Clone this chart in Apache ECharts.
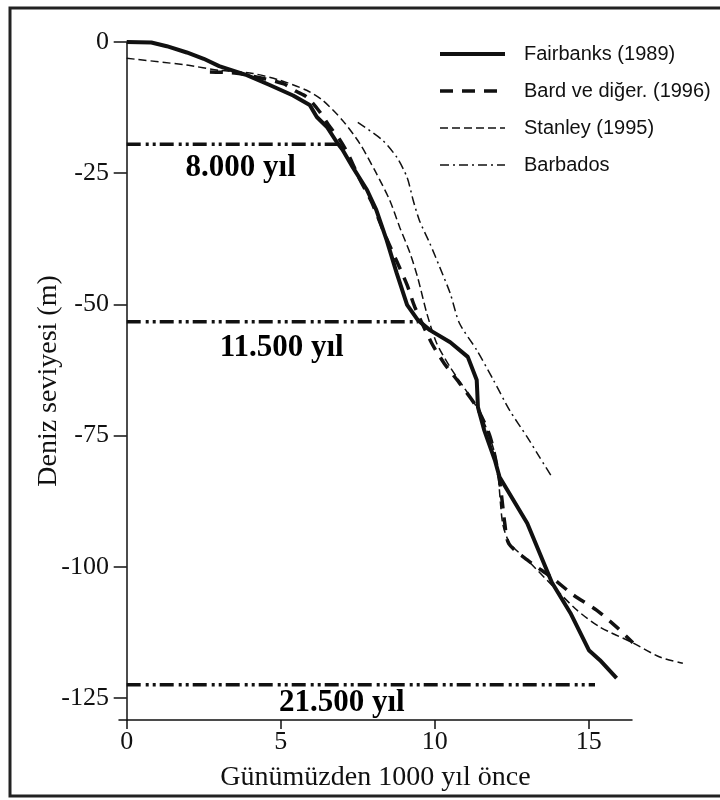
<!DOCTYPE html>
<html>
<head>
<meta charset="utf-8">
<script src="https://cdn.jsdelivr.net/npm/echarts@6/dist/echarts.min.js"></script>
<style>
    html, body {margin: 0; padding: 0; background: #fff;}
    #chart {width: 720px; height: 800px;}
</style>
</head>
<body>
<div id="chart"></div>
<script>
// egriler: [bin yil once, deniz seviyesi m]
var fairbanks = [[0, 0], [0.8, -0.1], [1.3, -0.8], [1.95, -2], [2.5, -3.2], [3.0, -4.6], [3.9, -6.3], [4.64, -8.2],
    [5.4, -10.2], [5.94, -12], [6.17, -14.3], [6.5, -16.2], [6.82, -19.1], [7.0, -20.5], [7.34, -23.9], [7.8, -28.2],
    [8.1, -32], [8.44, -37.8], [8.76, -44], [9.1, -50.1], [9.45, -53], [9.84, -54.9], [10.5, -57.2], [11.07, -60],
    [11.36, -64.4], [11.4, -69.6], [11.6, -73.9], [11.95, -79.7], [12.1, -82.9], [13.0, -91.7], [13.8, -103],
    [14.4, -108.8], [15.0, -115.9], [15.36, -117.8], [15.9, -121.2]];
var bard = [[2.7, -5.7], [3.5, -5.9], [4.4, -6.9], [5.1, -8.0], [5.5, -9.4], [5.85, -10.5], [6.25, -13.2], [6.6, -16.2],
    [6.9, -18.5], [7.2, -21.5], [7.55, -26], [7.95, -30.5], [8.4, -37], [8.75, -41.6], [9.1, -46.3], [9.35, -50.5],
    [9.9, -57.4], [10.3, -61.2], [10.8, -65], [11.36, -69.6], [11.8, -75.3], [12.1, -83.5], [12.27, -91.7],
    [12.4, -95.6], [13.0, -98.7], [13.83, -102.2], [14.5, -105.4], [15.26, -108.3], [15.94, -111.7], [16.43, -114.5]];
var stanley = [[0, -3.1], [1.95, -4.4], [3.0, -5.4], [4.1, -6.0], [4.97, -7.3], [5.84, -9.2], [6.36, -11.1], [7.0, -14.9],
    [7.56, -19.3], [8.1, -25], [8.54, -30.2], [8.86, -35.3], [9.2, -40.3], [9.45, -45], [9.74, -51.7], [10.06, -57.4],
    [10.5, -62], [11.0, -66.3], [11.36, -69.6], [11.7, -74], [12.0, -79.7], [12.2, -91.7], [12.43, -95.5], [13.0, -98.7],
    [13.8, -103.5], [14.6, -108.2], [15.36, -111.5], [16.43, -114.5], [17.3, -117.2], [18.05, -118.4]];
var barbados = [[7.5, -15.3], [8.3, -18.7], [8.77, -22], [9.1, -25.8], [9.3, -30.2], [9.5, -34], [9.84, -38.4],
    [10.16, -42.9], [10.5, -47.9], [10.8, -53.6], [11.36, -58.7], [11.9, -64.4], [12.43, -70.2], [13.0, -75.3],
    [13.4, -79.1], [13.8, -82.9]];

// yatay referans cizgileri
var refLevels = [-19.5, -53.3, -122.5];
var refEnds = [6.85, 9.45, 15.2];
var refLabels = ['8.000 yıl', '11.500 yıl', '21.500 yıl'];
var refLabelAt = [[3.7, -24.1], [5.03, -58.3], [6.98, -125.9]];

var xTicks = [0, 5, 10, 15];
var yTicks = [0, -25, -50, -75, -100, -125];
var seriesNames = ['Fairbanks (1989)', 'Bard ve diğer. (1996)', 'Stanley (1995)', 'Barbados'];

var ink = '#111';
var serif = 'Liberation Serif';

var lineStyles = [
    {width: 4, type: 'solid'},
    {width: 3.5, type: [13, 9]},
    {width: 1.5, type: [8, 4]},
    {width: 1.5, type: [9, 4, 2, 4]}
];
var curves = [fairbanks, bard, stanley, barbados];

// eksen olcegi: 30.8 px / birim; egriler eksen sonunu gectigi icin genis ikinci grid
var xMin = -0.25, xMax = 16.4, xMaxWide = 18.3;
var gridLeft = 119, gridRight = 88;
var pxPerUnit = (720 - gridLeft - gridRight) / (xMax - xMin);
var wideRight = 720 - gridLeft - pxPerUnit * (xMaxWide - xMin);

var series = [];
curves.forEach(function (d, i) {
    series.push({
        name: seriesNames[i],
        type: 'line',
        xAxisIndex: 1,
        yAxisIndex: 1,
        data: d,
        symbol: 'none',
        smooth: i === 0 ? false : 0.25,
        lineStyle: {color: ink, width: lineStyles[i].width, type: lineStyles[i].type},
        itemStyle: {color: ink},
        z: 5 - i
    });
});

refLevels.forEach(function (lvl, i) {
    series.push({
        type: 'line',
        data: [[0, lvl], [refEnds[i], lvl]],
        symbol: 'none',
        lineStyle: {color: ink, width: 3.5, type: [14, 5, 3, 4, 3, 4]},
        silent: true
    });
});

series.push({
    type: 'scatter',
    data: refLabelAt.map(function (p, i) { return {value: p, name: refLabels[i]}; }),
    symbolSize: 0,
    silent: true,
    itemStyle: {opacity: 1},
    label: {
        show: true,
        position: 'inside',
        formatter: '{b}',
        fontFamily: serif,
        fontWeight: 'bold',
        fontSize: 31,
        color: '#000'
    }
});

var chart = echarts.init(document.getElementById('chart'));
var option = {
    backgroundColor: '#fff',
    animation: false,
    graphic: [{
        type: 'rect',
        shape: {x: 10, y: 8, width: 722, height: 788},
        style: {fill: 'none', stroke: '#222', lineWidth: 3},
        silent: true
    }],
    legend: {
        orient: 'vertical',
        left: 438,
        top: 42,
        padding: 0,
        itemWidth: 65,
        itemHeight: 14,
        itemGap: 13,
        textStyle: {fontFamily: 'Liberation Sans', fontSize: 20, color: ink, lineHeight: 24, padding: [0, 0, 0, 14]},
        data: seriesNames.map(function (n, i) {
            return {
                name: n,
                itemStyle: {opacity: 0},
                lineStyle: {width: lineStyles[i].width, type: lineStyles[i].type, color: ink}
            };
        })
    },
    grid: [
        {left: gridLeft, right: gridRight, top: 42, bottom: 80},
        {left: gridLeft, right: wideRight, top: 42, bottom: 80}
    ],
    xAxis: [{
        type: 'value',
        min: xMin,
        max: xMax,
        name: 'Günümüzden 1000 yıl önce',
        nameLocation: 'middle',
        nameGap: 44,
        nameTextStyle: {fontFamily: serif, fontSize: 28, color: ink},
        splitLine: {show: false},
        axisLine: {onZero: false, lineStyle: {color: ink, width: 1.5}},
        axisTick: {length: 9, customValues: xTicks, lineStyle: {color: ink, width: 1.5}},
        axisLabel: {customValues: xTicks, margin: 9, fontFamily: serif, fontSize: 26, color: ink}
    }, {
        type: 'value',
        gridIndex: 1,
        min: xMin,
        max: xMaxWide,
        show: false
    }],
    yAxis: [{
        type: 'value',
        min: -129.2,
        max: 0,
        name: 'Deniz seviyesi (m)',
        nameLocation: 'middle',
        nameRotate: 90,
        nameGap: 56,
        nameMoveOverlap: false,
        nameTextStyle: {fontFamily: serif, fontSize: 28, color: ink},
        splitLine: {show: false},
        axisLine: {onZero: true, lineStyle: {color: ink, width: 1.5}},
        axisTick: {length: 13, customValues: yTicks, lineStyle: {color: ink, width: 1.5}},
        axisLabel: {customValues: yTicks, margin: 10, fontFamily: serif, fontSize: 26, color: ink}
    }, {
        type: 'value',
        gridIndex: 1,
        min: -129.2,
        max: 0,
        show: false
    }],
    series: series
};
chart.setOption(option);
</script>
</body>
</html>
